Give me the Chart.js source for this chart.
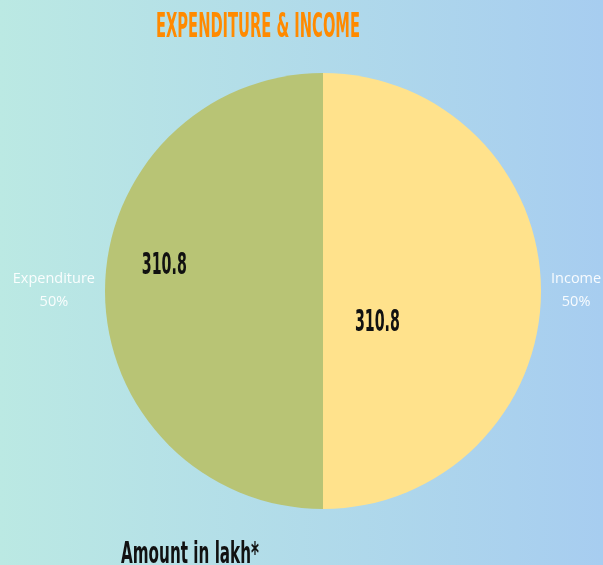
<!DOCTYPE html>
<html>
<head>
<meta charset="utf-8">
<script src="https://cdn.jsdelivr.net/npm/chart.js@4"></script>
<style>
  html, body { margin: 0; padding: 0; }
  body { width: 603px; height: 565px; overflow: hidden; }
  #wrap { width: 603px; height: 565px; position: relative; }
</style>
</head>
<body>
<div id="wrap"><canvas id="pieChart" width="603" height="565"></canvas></div>
<script>
const categories = ['Income', 'Expenditure'];
const amounts = [310.8, 310.8];
const percents = ['50%', '50%'];
const sliceColors = ['#ffe28c', '#b8c475'];

const titleText = 'EXPENDITURE & INCOME';
const footerText = 'Amount in lakh*';

// draw a condensed bold string squeezed to a given width
function drawCondensed(ctx, text, cx, baseline, size, width, color) {
    ctx.save();
    ctx.font = 'bold ' + size + 'px "DejaVu Sans"';
    const w = ctx.measureText(text).width;
    const sx = width / w;
    ctx.translate(cx, baseline);
    ctx.scale(sx, 1);
    ctx.fillStyle = color;
    ctx.textAlign = 'center';
    ctx.textBaseline = 'alphabetic';
    ctx.fillText(text, 0, 0);
    ctx.restore();
}

const backdrop = {
    id: 'backdrop',
    beforeDraw(chart) {
        const ctx = chart.ctx;
        const g = ctx.createLinearGradient(0, 0, chart.width, 0);
        g.addColorStop(0, '#bbe9e3');
        g.addColorStop(1, '#a7cdf0');
        ctx.save();
        ctx.fillStyle = g;
        ctx.fillRect(0, 0, chart.width, chart.height);
        ctx.restore();
    }
};

// inner value labels: radial fraction + angle shift per slice
const valuePlace = [{ f: 0.28, shift: 0.47 }, { f: 0.74, shift: 0.18 }];

const labels = {
    id: 'labels',
    afterDatasetsDraw(chart) {
        const ctx = chart.ctx;
        const meta = chart.getDatasetMeta(0);
        meta.data.forEach((arc, i) => {
            const p = arc.getProps(['x', 'y', 'startAngle', 'endAngle', 'outerRadius'], true);
            const mid = (p.startAngle + p.endAngle) / 2;
            const a = mid + valuePlace[i].shift;
            const r = p.outerRadius * valuePlace[i].f;
            const vx = p.x + Math.cos(a) * r;
            const vy = p.y + Math.sin(a) * r;
            drawCondensed(ctx, amounts[i].toFixed(1), vx, vy + 12, 31, 45, '#111');

            ctx.save();
            ctx.font = '14.5px "Open Sans"';
            const tw = Math.max(ctx.measureText(categories[i]).width, ctx.measureText(percents[i]).width);
            const off = p.outerRadius + 10 + tw / 2;
            const ox = p.x + Math.cos(mid) * off;
            const oy = p.y + Math.sin(mid) * off;
            ctx.fillStyle = 'rgba(255,255,255,0.92)';
            ctx.textAlign = 'center';
            ctx.textBaseline = 'middle';
            ctx.fillText(categories[i], ox, oy - 12);
            ctx.fillText(percents[i], ox, oy + 11);
            ctx.restore();
        });

        drawCondensed(ctx, titleText, 258, 37, 34, 204, '#ff8a00');
        drawCondensed(ctx, footerText, 190, 563, 31, 138, '#111');
    }
};

new Chart(document.getElementById('pieChart'), {
    type: 'pie',
    data: {
        labels: categories,
        datasets: [{
            data: amounts,
            backgroundColor: sliceColors,
            borderWidth: 0
        }]
    },
    options: {
        responsive: false,
        animation: false,
        layout: { padding: { left: 105, right: 62, top: 73, bottom: 56 } },
        plugins: {
            legend: { display: false },
            tooltip: { enabled: false },
            title: { display: false }
        }
    },
    plugins: [backdrop, labels]
});
</script>
</body>
</html>
